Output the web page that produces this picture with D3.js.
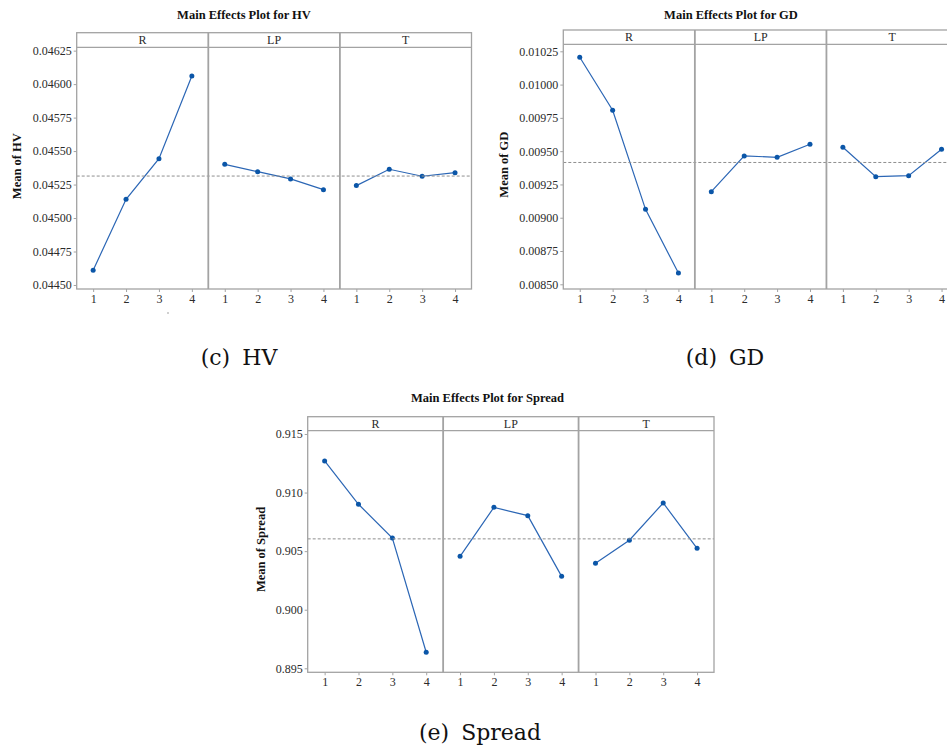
<!DOCTYPE html>
<html>
<head>
<meta charset="utf-8">
<script src="https://cdn.jsdelivr.net/npm/d3@7"></script>
<style>
  body { margin: 0; background: #fff; }
  svg text { font-family: "Liberation Serif", "Times New Roman", serif; }
</style>
</head>
<body>
<div id="chart"></div>
<script>
// factor levels and panels
var levels = ["1", "2", "3", "4"];
var factors = ["R", "LP", "T"];

// means
var hvR  = [0.04461, 0.04514, 0.045443, 0.046061];
var hvLP = [0.045401, 0.045346, 0.045292, 0.045212];
var hvT  = [0.045242, 0.045364, 0.045312, 0.045339];
var hvTicks = [0.04450, 0.04475, 0.04500, 0.04525, 0.04550, 0.04575, 0.04600, 0.04625];

var gdR  = [0.010205, 0.009807, 0.009063, 0.008585];
var gdLP = [0.009196, 0.009464, 0.009454, 0.009552];
var gdT  = [0.009529, 0.009308, 0.009316, 0.009514];
var gdTicks = [0.00850, 0.00875, 0.00900, 0.00925, 0.00950, 0.00975, 0.01000, 0.01025];

var spR  = [0.91270, 0.90900, 0.90612, 0.89637];
var spLP = [0.90456, 0.90874, 0.90803, 0.90285];
var spT  = [0.90396, 0.90593, 0.90911, 0.90524];
var spTicks = [0.895, 0.900, 0.905, 0.910, 0.915];

var width = 947, height = 755;
var serif = "'Liberation Serif', 'Times New Roman', serif";
var frameColor = "#a3a3a3";
var lineColor = "#2b66b5";
var dotColor = "#0b56a8";
var textColor = "#2b2b2b";

var svg = d3.select("#chart").append("svg")
  .attr("width", width)
  .attr("height", height);

function drawChart(cfg) {
  var g = svg.append("g");
  var pw = (cfg.right - cfg.left) / factors.length;
  var plotTop = cfg.top + cfg.strip;

  var y = d3.scaleLinear().domain(cfg.domain).range([cfg.bottom, plotTop]);
  var panel = d3.scaleBand().domain(factors).range([cfg.left, cfg.right]);

  // title
  g.append("text")
    .attr("x", cfg.titleX).attr("y", cfg.titleY)
    .attr("text-anchor", "middle")
    .attr("font-weight", "bold")
    .attr("font-size", 12.5)
    .attr("fill", "#111")
    .text(cfg.title);

  // y axis label
  g.append("text")
    .attr("transform", "translate(" + cfg.labelX + "," + ((plotTop + cfg.bottom) / 2 - 2) + ") rotate(-90)")
    .attr("text-anchor", "middle")
    .attr("font-weight", "bold")
    .attr("font-size", 12.5)
    .attr("fill", "#111")
    .text(cfg.ylabel);

  // y axis
  var yAxis = g.append("g")
    .attr("transform", "translate(" + cfg.left + ",0)")
    .call(d3.axisLeft(y).tickValues(cfg.ticks).tickFormat(d3.format(cfg.fmt)).tickSize(3).tickPadding(2))
    .attr("font-family", serif)
    .attr("font-size", 12);
  yAxis.select(".domain").remove();
  yAxis.selectAll("line").attr("stroke", frameColor);
  yAxis.selectAll("text").attr("fill", textColor);

  var mean = d3.mean(cfg.series[0]);

  cfg.series.forEach(function(vals, i) {
    var f = factors[i];
    var x0 = panel(f);
    var x = d3.scalePoint().domain(levels).range([x0, x0 + pw]).padding(0.5);

    // x axis
    var xAxis = g.append("g")
      .attr("transform", "translate(0," + cfg.bottom + ")")
      .call(d3.axisBottom(x).tickSize(3).tickPadding(2))
      .attr("font-family", serif)
      .attr("font-size", 12);
    xAxis.select(".domain").remove();
    xAxis.selectAll("line").attr("stroke", frameColor);
    xAxis.selectAll("text").attr("fill", textColor);

    // strip label
    g.append("text")
      .attr("x", x0 + pw / 2).attr("y", cfg.top + cfg.strip - 3)
      .attr("text-anchor", "middle")
      .attr("font-size", 12)
      .attr("fill", textColor)
      .text(f);

    var line = d3.line()
      .x(function(d, j) { return x(levels[j]); })
      .y(function(d) { return y(d); });

    g.append("path")
      .datum(vals)
      .attr("d", line)
      .attr("fill", "none")
      .attr("stroke", lineColor)
      .attr("stroke-width", 1.2);

    g.selectAll(null)
      .data(vals)
      .enter()
      .append("circle")
      .attr("cx", function(d, j) { return x(levels[j]); })
      .attr("cy", function(d) { return y(d); })
      .attr("r", 2.5)
      .attr("fill", dotColor);
  });

  // grand mean reference line
  g.append("line")
    .attr("x1", cfg.left).attr("x2", cfg.right)
    .attr("y1", y(mean)).attr("y2", y(mean))
    .attr("stroke", "#8f8f8f")
    .attr("stroke-width", 1)
    .attr("stroke-dasharray", "3,2");

  // frame, strips and dividers
  g.append("rect")
    .attr("x", cfg.left).attr("y", cfg.top)
    .attr("width", cfg.right - cfg.left).attr("height", cfg.bottom - cfg.top)
    .attr("fill", "none").attr("stroke", frameColor).attr("stroke-width", 1.3);
  g.append("line")
    .attr("x1", cfg.left).attr("x2", cfg.right)
    .attr("y1", plotTop).attr("y2", plotTop)
    .attr("stroke", frameColor).attr("stroke-width", 1.3);
  factors.slice(1).forEach(function(f) {
    g.append("line")
      .attr("x1", panel(f)).attr("x2", panel(f))
      .attr("y1", cfg.top).attr("y2", cfg.bottom)
      .attr("stroke", frameColor).attr("stroke-width", 1.8);
  });

  // sub caption
  svg.append("text")
    .attr("x", cfg.capX).attr("y", cfg.capY)
    .attr("text-anchor", "middle")
    .attr("font-size", 22)
    .attr("word-spacing", 5)
    .style("font-family", "'DejaVu Serif', serif")
    .attr("fill", "#111")
    .text(cfg.caption);
}

drawChart({
  title: "Main Effects Plot for HV", ylabel: "Mean of HV", caption: "(c) HV",
  series: [hvR, hvLP, hvT], ticks: hvTicks, fmt: ".5f",
  domain: [0.04447, 0.046275],
  left: 76.7, right: 471.5, top: 32.7, strip: 14.6, bottom: 289,
  titleX: 244, titleY: 19, labelX: 21, capX: 239, capY: 365
});

drawChart({
  title: "Main Effects Plot for GD", ylabel: "Mean of GD", caption: "(d) GD",
  series: [gdR, gdLP, gdT], ticks: gdTicks, fmt: ".5f",
  domain: [0.0084647, 0.0103026],
  left: 563.3, right: 958, top: 30, strip: 14.3, bottom: 289,
  titleX: 731, titleY: 19, labelX: 508, capX: 725, capY: 365
});

drawChart({
  title: "Main Effects Plot for Spread", ylabel: "Mean of Spread", caption: "(e) Spread",
  series: [spR, spLP, spT], ticks: spTicks, fmt: ".3f",
  domain: [0.894659, 0.91528],
  left: 307.7, right: 714, top: 416.7, strip: 14, bottom: 672.3,
  titleX: 487.5, titleY: 402, labelX: 265, capX: 480, capY: 740
});

// stray mark under the HV plot
svg.append("rect").attr("x", 167.5).attr("y", 312.5).attr("width", 1).attr("height", 1).attr("fill", "#444");
</script>
</body>
</html>
